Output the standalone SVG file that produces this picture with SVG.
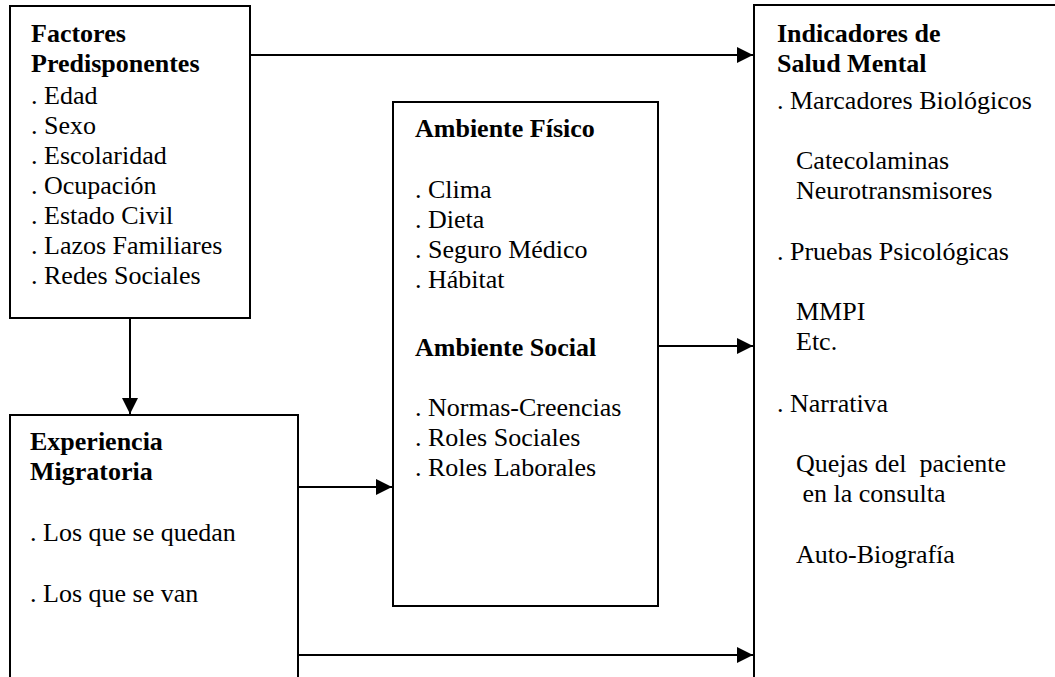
<svg xmlns="http://www.w3.org/2000/svg" width="1055" height="677" viewBox="0 0 1055 677">
<style>
.box{fill:#fff;stroke:#000;stroke-width:2}
.t{font-family:'Liberation Serif','Tinos','DejaVu Serif','Times New Roman',Times,serif;font-size:26px;fill:#000;white-space:pre}
.b{font-weight:bold}
.c{stroke:#000;stroke-width:2;fill:none}
</style>
<defs>
<marker id="ah" markerUnits="userSpaceOnUse" markerWidth="16" markerHeight="16" viewBox="0 0 16 16" refX="16" refY="8" orient="auto">
<path d="M0,0 L16,8 L0,16 Z" fill="#000"/>
</marker>
</defs>
<rect width="1055" height="677" fill="#fff"/>
<g id="factores" font-family="Liberation Serif, DejaVu Serif, serif">
<rect class="box" x="10" y="6" width="240" height="312"/>
<text class="t b" x="31" y="42">Factores</text>
<text class="t b" x="31" y="72">Predisponentes</text>
<text class="t" x="31" y="104">. Edad</text>
<text class="t" x="31" y="134">. Sexo</text>
<text class="t" x="31" y="164">. Escolaridad</text>
<text class="t" x="31" y="194">. Ocupación</text>
<text class="t" x="31" y="224">. Estado Civil</text>
<text class="t" x="31" y="254">. Lazos Familiares</text>
<text class="t" x="31" y="284">. Redes Sociales</text>
</g>
<g id="ambiente">
<rect class="box" x="393" y="102" width="265" height="504"/>
<text class="t b" x="415" y="137">Ambiente Físico</text>
<text class="t" x="415" y="198">. Clima</text>
<text class="t" x="415" y="228">. Dieta</text>
<text class="t" x="415" y="258">. Seguro Médico</text>
<text class="t" x="415" y="288">. Hábitat</text>
<text class="t b" x="415" y="356">Ambiente Social</text>
<text class="t" x="415" y="416">. Normas-Creencias</text>
<text class="t" x="415" y="446">. Roles Sociales</text>
<text class="t" x="415" y="476">. Roles Laborales</text>
</g>
<g id="experiencia">
<rect class="box" x="10" y="415" width="288" height="280"/>
<text class="t b" x="30" y="450">Experiencia</text>
<text class="t b" x="30" y="480">Migratoria</text>
<text class="t" x="30" y="541">. Los que se quedan</text>
<text class="t" x="30" y="602">. Los que se van</text>
</g>
<g id="indicadores">
<rect class="box" x="754" y="5" width="320" height="700"/>
<text class="t b" x="777" y="42">Indicadores de</text>
<text class="t b" x="777" y="72">Salud Mental</text>
<text class="t" x="777" y="109">. Marcadores Biológicos</text>
<text class="t" x="796" y="169">Catecolaminas</text>
<text class="t" x="796" y="199">Neurotransmisores</text>
<text class="t" x="777" y="260">. Pruebas Psicológicas</text>
<text class="t" x="796" y="320">MMPI</text>
<text class="t" x="796" y="350">Etc.</text>
<text class="t" x="777" y="412">. Narrativa</text>
<text class="t" x="796" y="472">Quejas del  paciente</text>
<text class="t" x="796" y="502"> en la consulta</text>
<text class="t" x="796" y="563">Auto-Biografía</text>
</g>
<g id="connectors">
<line class="c" x1="250" y1="55" x2="753" y2="55" marker-end="url(#ah)"/>
<line class="c" x1="130" y1="318" x2="130" y2="414" marker-end="url(#ah)"/>
<line class="c" x1="298" y1="487" x2="392" y2="487" marker-end="url(#ah)"/>
<line class="c" x1="658" y1="346" x2="753" y2="346" marker-end="url(#ah)"/>
<line class="c" x1="298" y1="655" x2="753" y2="655" marker-end="url(#ah)"/>
</g>
</svg>
